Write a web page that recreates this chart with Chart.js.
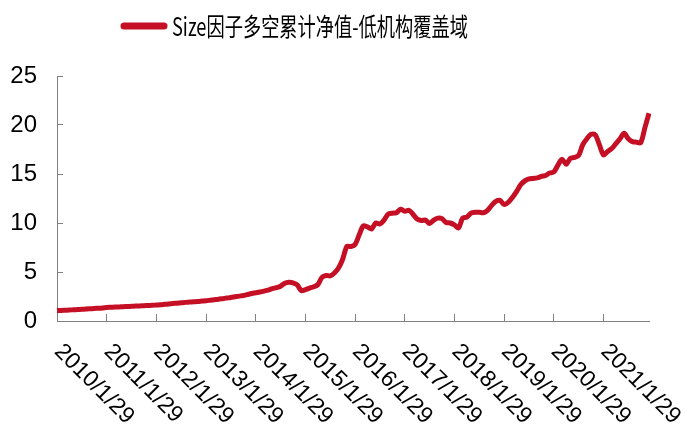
<!DOCTYPE html>
<html>
<head>
<meta charset="utf-8">
<script src="https://cdn.jsdelivr.net/npm/chart.js@4/dist/chart.umd.min.js"></script>
<style>
  html,body{margin:0;padding:0;background:#fff;}
  #wrap{width:687px;height:438px;}
</style>
</head>
<body>
<div id="wrap"><canvas id="myChart" width="687" height="438"></canvas></div>
<script>
var v_title = "Size因子多空累计净值-低机构覆盖域";
// 年份刻度
var v_years = ["2010","2011","2012","2013","2014","2015","2016","2017","2018","2019","2020","2021"];
var v_yticks = [0,5,10,15,20,25];
// 月度净值 2010/1 - 2021/12
var v_nav = [
  1.05,1.08,1.10,1.12,1.15,1.17,1.20,1.22,1.25,1.28,1.30,1.33,
  1.38,1.40,1.42,1.44,1.46,1.48,1.50,1.52,1.54,1.56,1.58,1.60,
  1.63,1.66,1.70,1.74,1.78,1.82,1.86,1.90,1.93,1.96,1.99,2.03,
  2.07,2.12,2.17,2.22,2.28,2.34,2.40,2.47,2.54,2.60,2.70,2.80,
  2.88,2.96,3.05,3.15,3.30,3.40,3.55,3.85,3.95,3.90,3.70,3.10,
  3.20,3.35,3.50,3.70,4.45,4.65,4.60,4.90,5.40,6.30,7.60,7.60,
  7.80,8.80,9.70,9.60,9.40,10.0,9.90,10.3,10.9,11.0,11.05,11.4,
  11.2,11.3,10.9,10.4,10.25,10.3,9.95,10.3,10.5,10.45,10.05,10.0,
  9.80,9.50,10.5,10.6,11.0,11.1,11.1,11.05,11.3,11.8,12.2,12.3,
  11.9,12.1,12.6,13.2,13.9,14.3,14.5,14.55,14.6,14.75,14.85,15.1,
  15.2,15.9,16.5,16.0,16.6,16.7,16.9,18.0,18.6,19.05,19.0,18.0,
  16.95,17.3,17.6,18.1,18.6,19.15,18.6,18.3,18.25,18.2,19.7,21.2
];

var v_labels = [];
for (var a = 0; a < v_years.length; a++) {
  for (var m = 1; m <= 12; m++) {
    v_labels.push(v_years[a] + "/" + m + "/29");
  }
}

var v_red = "#C50F24";
var v_axis = "#808080";

// 斜排的年份标签
var p_xlabels = {
  id: "xlabels",
  afterDraw: function (chart) {
    var ctx = chart.ctx;
    var xs = chart.scales.x;
    ctx.save();
    ctx.fillStyle = "#000";
    ctx.font = "23px 'Liberation Sans', Arial, sans-serif";
    ctx.textAlign = "left";
    ctx.textBaseline = "middle";
    for (var i = 0; i < v_labels.length; i += 12) {
      var x = xs.getPixelForValue(i);
      ctx.save();
      ctx.translate(x + 1, xs.top + 27);
      ctx.rotate(Math.PI / 4);
      ctx.fillText(v_labels[i], 0, 0);
      ctx.restore();
    }
    ctx.restore();
  }
};

// 图例
var p_legend = {
  id: "mylegend",
  afterDraw: function (chart) {
    var ctx = chart.ctx;
    var ds = chart.data.datasets[0];
    ctx.save();
    ctx.strokeStyle = ds.borderColor;
    ctx.lineWidth = 7;
    ctx.lineCap = "round";
    ctx.beginPath();
    ctx.moveTo(124, 26);
    ctx.lineTo(164, 26);
    ctx.stroke();
    ctx.fillStyle = "#000";
    ctx.font = "25px 'Noto Sans CJK SC', sans-serif";
    ctx.textBaseline = "middle";
    var w = ctx.measureText(ds.label).width;
    ctx.translate(172, 26);
    ctx.scale(296 / w, 1);
    ctx.fillText(ds.label, 0, 0);
    ctx.restore();
  }
};

var ctx = document.getElementById("myChart").getContext("2d");
var myChart = new Chart(ctx, {
  type: "line",
  data: {
    labels: v_labels,
    datasets: [{
      label: v_title,
      data: v_nav,
      borderColor: v_red,
      backgroundColor: v_red,
      borderWidth: 5,
      pointRadius: 0,
      tension: 0.3,
      fill: false
    }]
  },
  options: {
    responsive: false,
    animation: false,
    layout: { padding: { top: 76, right: 38, left: 0, bottom: 0 } },
    plugins: {
      legend: { display: false },
      tooltip: { enabled: false }
    },
    scales: {
      x: {
        offset: false,
        afterFit: function (s) { s.height = 117; },
        border: { display: true, color: v_axis, width: 1 },
        grid: {
          drawOnChartArea: false,
          drawTicks: true,
          tickLength: -7,
          color: function (c) { return c.index % 12 == 0 ? v_axis : "rgba(0,0,0,0)"; },
          tickColor: function (c) { return c.index % 12 == 0 ? v_axis : "rgba(0,0,0,0)"; }
        },
        ticks: { display: false }
      },
      y: {
        min: 0,
        max: 25,
        afterFit: function (s) { s.width = 57; },
        afterBuildTicks: function (s) {
          s.ticks = v_yticks.map(function (v) { return { value: v }; });
        },
        border: { display: true, color: v_axis, width: 1 },
        grid: {
          drawOnChartArea: false,
          drawTicks: true,
          tickLength: -6,
          color: v_axis
        },
        ticks: {
          padding: 26,
          color: "#000",
          font: { family: "'Liberation Sans', Arial, sans-serif", size: 24 }
        }
      }
    }
  },
  plugins: [p_xlabels, p_legend]
});
</script>
</body>
</html>
